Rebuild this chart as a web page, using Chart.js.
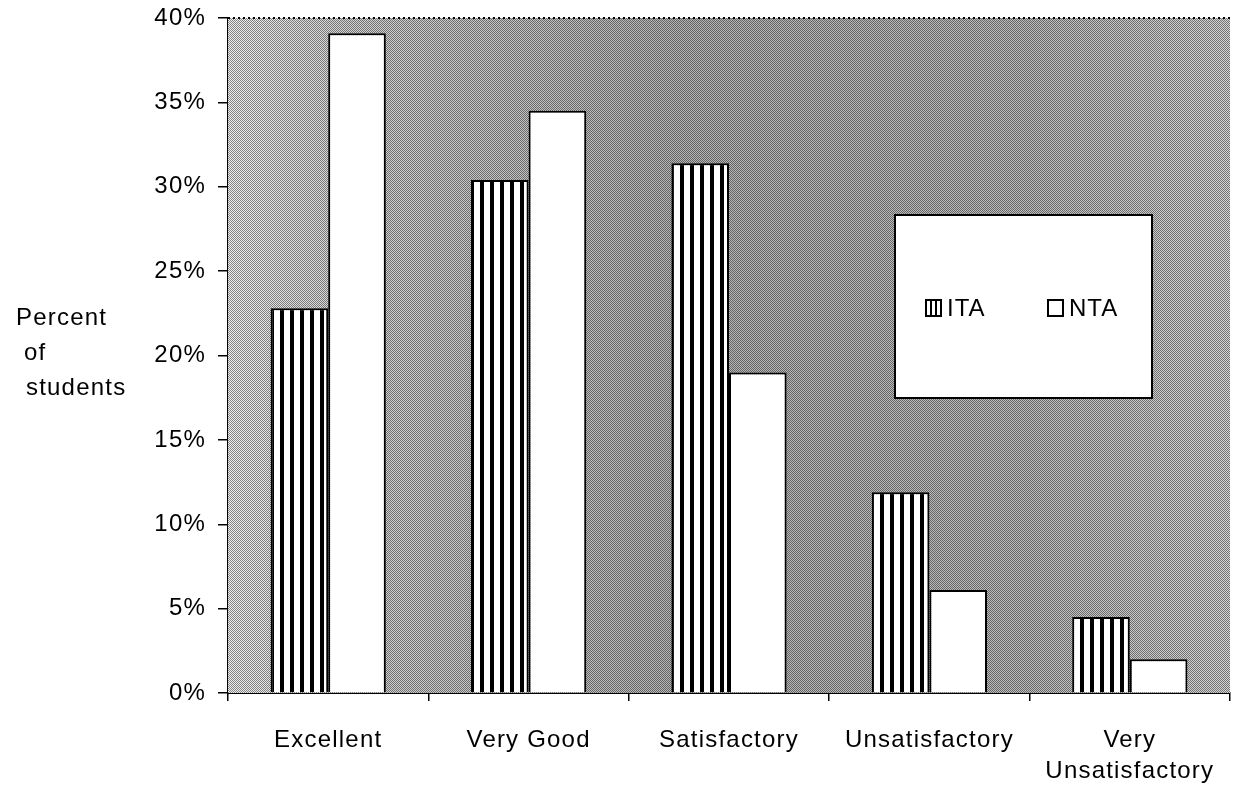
<!DOCTYPE html>
<html lang="en">
<head>
<meta charset="UTF-8">
<title>Percent of students by rating</title>
<script src="https://cdn.jsdelivr.net/npm/chart.js"></script>
<style>
  html, body { margin: 0; padding: 0; background: #fff; }
  #wrap { width: 1234px; height: 788px; position: relative; }
</style>
</head>
<body>
<div id="wrap"><canvas id="ratingChart"></canvas></div>
<script>
const categories = ['Excellent', 'Very Good', 'Satisfactory', 'Unsatisfactory', ['Very', 'Unsatisfactory']];
const itaValues = [22.8, 30.4, 31.4, 11.9, 4.5];
const ntaValues = [39.1, 34.5, 19.0, 6.1, 2.0];
const yTicks = [0, 5, 10, 15, 20, 25, 30, 35, 40];
const seriesNames = ['ITA', 'NTA'];
const yTitle = ['Percent', 'of', 'students'];

const FONT = '"Liberation Sans", Arial, Helvetica, sans-serif';

// vertical stripes for the ITA bars
function stripePattern(period, dark) {
    const c = document.createElement('canvas');
    c.width = period; c.height = 8;
    const g = c.getContext('2d');
    g.fillStyle = '#fff'; g.fillRect(0, 0, period, 8);
    g.fillStyle = '#000'; g.fillRect(0, 0, dark, 8);
    return g.createPattern(c, 'repeat');
}
function ditherPattern() {
    const c = document.createElement('canvas');
    c.width = 2; c.height = 2;
    const g = c.getContext('2d');
    g.fillStyle = '#000';
    g.fillRect(0, 0, 1, 1); g.fillRect(1, 1, 1, 1);
    return g.createPattern(c, 'repeat');
}
const stripes = stripePattern(10, 4);
const dither = ditherPattern();

const spacing = {
    id: 'spacing',
    beforeLayout(chart) { chart.ctx.letterSpacing = '1.2px'; },
    beforeDraw(chart) { chart.ctx.letterSpacing = '1.2px'; }
};

const plotBackground = {
    id: 'plotBackground',
    beforeDatasetsDraw(chart) {
        const { ctx, chartArea: a } = chart;
        ctx.save();
        const grad = ctx.createLinearGradient(a.left, 0, a.right, 0);
        grad.addColorStop(0, '#f0f0f0');
        grad.addColorStop(0.12, '#d2d2d2');
        grad.addColorStop(0.45, '#b4b4b4');
        grad.addColorStop(0.8, '#bcbcbc');
        grad.addColorStop(1, '#d4d4d4');
        ctx.fillStyle = grad;
        ctx.fillRect(a.left, a.top, a.right - a.left, a.bottom - a.top);
        ctx.globalAlpha = 0.45;
        ctx.fillStyle = dither;
        ctx.fillRect(a.left, a.top, a.right - a.left, a.bottom - a.top);
        ctx.globalAlpha = 1;
        // dotted top edge
        ctx.strokeStyle = '#000';
        ctx.lineWidth = 2;
        ctx.setLineDash([2, 3]);
        ctx.beginPath();
        ctx.moveTo(a.left, a.top);
        ctx.lineTo(a.right, a.top);
        ctx.stroke();
        ctx.restore();
    }
};

const boxLegend = {
    id: 'boxLegend',
    afterDatasetsDraw(chart) {
        const { ctx } = chart;
        ctx.save();
        ctx.fillStyle = '#fff';
        ctx.fillRect(895, 215, 257, 183);
        ctx.strokeStyle = '#000';
        ctx.lineWidth = 2;
        ctx.strokeRect(895, 215, 257, 183);
        ctx.font = '24px ' + FONT;
        ctx.letterSpacing = '1px';
        ctx.textBaseline = 'middle';
        const items = [{ x: 926, lines: true }, { x: 1048, lines: false }];
        chart.data.datasets.forEach((ds, i) => {
            const it = items[i];
            ctx.fillStyle = '#fff';
            ctx.fillRect(it.x, 300, 15, 16);
            ctx.strokeStyle = '#000';
            ctx.lineWidth = 2;
            ctx.strokeRect(it.x, 300, 15, 16);
            if (it.lines) {
                ctx.beginPath();
                ctx.moveTo(it.x + 5, 300); ctx.lineTo(it.x + 5, 316);
                ctx.moveTo(it.x + 10, 300); ctx.lineTo(it.x + 10, 316);
                ctx.stroke();
            }
            ctx.fillStyle = '#000';
            ctx.fillText(ds.label, it.x + 21, 309);
        });
        ctx.restore();
    }
};

const sideTitle = {
    id: 'sideTitle',
    afterDraw(chart) {
        const { ctx } = chart;
        ctx.save();
        ctx.font = '24px ' + FONT;
        ctx.letterSpacing = '1.2px';
        ctx.fillStyle = '#000';
        ctx.textBaseline = 'middle';
        const xs = [16, 24, 26];
        yTitle.forEach((t, i) => ctx.fillText(t, xs[i], 318 + i * 35));
        ctx.restore();
    }
};

new Chart(document.getElementById('ratingChart'), {
    type: 'bar',
    data: {
        labels: categories,
        datasets: [
            { label: seriesNames[0], data: itaValues, backgroundColor: stripes, borderColor: '#000', borderWidth: 2 },
            { label: seriesNames[1], data: ntaValues, backgroundColor: '#fff', borderColor: '#000', borderWidth: 2 }
        ]
    },
    options: {
        responsive: true,
        maintainAspectRatio: false,
        animation: false,
        layout: { padding: { top: 18, right: 4, left: 0, bottom: 0 } },
        datasets: { bar: { categoryPercentage: 0.575, barPercentage: 1.0 } },
        plugins: { legend: { display: false }, tooltip: { enabled: false } },
        scales: {
            x: {
                grid: { drawOnChartArea: false, color: '#000', tickLength: 8, lineWidth: 1.5 },
                border: { color: '#000', width: 2 },
                ticks: { color: '#000', padding: 24, font: { family: FONT, size: 24, lineHeight: 1.3 }, maxRotation: 0 },
                afterFit(s) { s.height = 95; s.paddingLeft = 0; s.paddingRight = 0; }
            },
            y: {
                min: 0, max: 40,
                afterBuildTicks(s) { s.ticks = yTicks.map(v => ({ value: v })); },
                grid: { drawOnChartArea: false, color: '#000', tickLength: 10, lineWidth: 1.5 },
                border: { color: '#000', width: 2 },
                ticks: { color: '#000', padding: 12, font: { family: FONT, size: 24 }, callback: v => v + '%' },
                afterFit(s) { s.width = 228; s.paddingTop = 0; s.paddingBottom = 0; }
            }
        }
    },
    plugins: [spacing, plotBackground, boxLegend, sideTitle]
});
</script>
</body>
</html>
